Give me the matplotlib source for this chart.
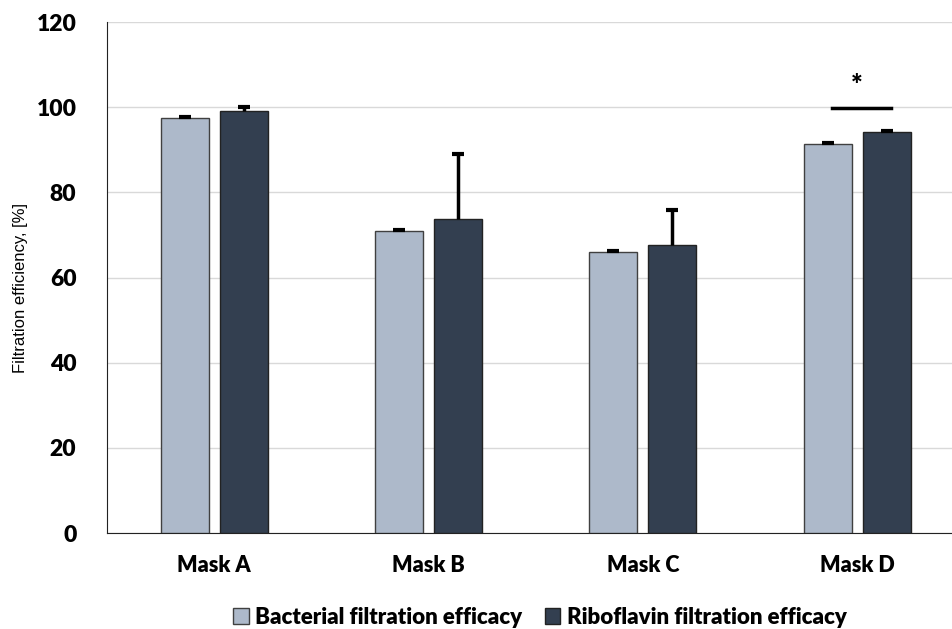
import matplotlib.pyplot as plt
import numpy as np

plt.rcParams['font.family'] = ['Lato', 'DejaVu Sans']

masks = ["Mask A", "Mask B", "Mask C", "Mask D"]
bacterial = [97.5, 70.9, 66.0, 91.4]
bacterial_err = [0.3, 0.3, 0.3, 0.3]
riboflavin = [99.1, 73.7, 67.6, 94.1]
riboflavin_err = [0.9, 15.3, 8.3, 0.3]
yticks = [0, 20, 40, 60, 80, 100, 120]

light = "#adb9ca"
dark = "#333f50"
bold = "heavy"

fig = plt.figure(figsize=(9.52, 6.29), dpi=100)
ax = fig.add_axes([0.1124, 0.1526, 0.8876, 0.8124])

x = np.arange(len(masks))
w = 0.224
off = 0.1375

ax.bar(x - off, bacterial, w, color=light, edgecolor="#404040", linewidth=1,
       label="Bacterial filtration efficacy", zorder=3)
ax.bar(x + off, riboflavin, w, color=dark, edgecolor="#222222", linewidth=1,
       label="Riboflavin filtration efficacy", zorder=3)

for pos, vals, errs in [(x - off, bacterial, bacterial_err), (x + off, riboflavin, riboflavin_err)]:
    eb = ax.errorbar(pos, vals, yerr=[np.zeros(4), errs], fmt="none",
                     ecolor="black", elinewidth=2.5, capsize=4, capthick=3, zorder=4)
    # only keep the upper cap
    eb[1][0].set_visible(False)

# significance marker on Mask D
ax.plot([3 - off + 0.02, 3 + off + 0.02], [99.8, 99.8], color="black", lw=2.5, zorder=5)
ax.text(3, 105, "*", ha="center", va="center", fontsize=20, fontweight=bold)

ax.set_xlim(-0.5, 3.443)
ax.set_ylim(0, 120)
ax.set_yticks(yticks)
ax.set_xticks(x)
ax.set_xticklabels(masks, fontsize=15.5, fontweight=bold)
for lab in ax.get_yticklabels():
    lab.set_fontsize(16.5)
    lab.set_fontweight(bold)
ax.tick_params(axis="y", length=0, pad=22)
ax.tick_params(axis="x", length=0, pad=16)
ax.yaxis.grid(True, color="#d9d9d9", linewidth=1, zorder=0)
ax.spines["top"].set_visible(False)
ax.spines["right"].set_visible(False)
ax.spines["left"].set_color("#222222")
ax.spines["bottom"].set_color("#222222")
ax.set_ylabel("Filtration efficiency, [%]", fontsize=12, family="Liberation Sans")
ax.yaxis.set_label_coords(-0.094, 0.48)

fig.legend(loc="center", bbox_to_anchor=(0.567, 0.019), ncol=2, frameon=False,
           prop={"size": 16, "weight": bold}, handlelength=0.7, handleheight=0.7,
           handletextpad=0.3, columnspacing=1.0)

fig.savefig("out.png", dpi=100)
